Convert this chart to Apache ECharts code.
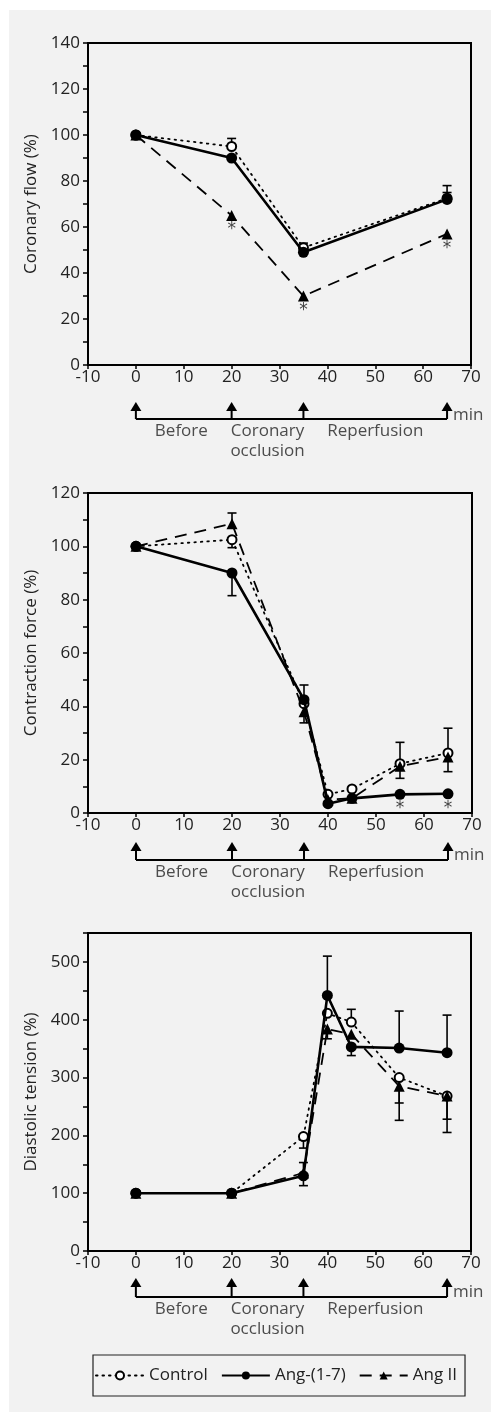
<!DOCTYPE html>
<html><head><meta charset="utf-8">
<script src="https://cdn.jsdelivr.net/npm/echarts@6/dist/echarts.min.js"></script>
<style>
html,body{margin:0;padding:0;background:#fff;}
#bg{position:absolute;left:9px;top:10px;width:482px;height:1402px;background:#f2f2f2;}
#chart{position:absolute;left:0;top:0;width:491px;height:1412px;}
</style></head><body><div id="bg"></div><div id="chart"></div>
<script>
// ---------- data ----------
const seriesNames = ['Control', 'Ang-(1-7)', 'Ang II'];

// Panel 1: coronary flow (%)
const flowTimes = [0, 20, 35, 65];
const flowControl = [100, 95, 51, 72.5];
const flowAng17 = [100, 90, 49, 72];
const flowAngII = [100, 65, 30, 57];
const flowControlErr = [null, 3.5, 2, 5.5];
const flowAng17Err = [null, null, null, 3];
const flowAngIIErr = [null, null, null, null];
const flowAngIIStar = [false, true, true, true];

// Panel 2: contraction force (%)
const forceTimes = [0, 20, 35, 40, 45, 55, 65];
const forceControl = [100, 102.5, 41, 7, 9, 18.5, 22.5];
const forceAng17 = [100, 90, 42.5, 3.5, 5.5, 7, 7.2];
const forceAngII = [100, 108.5, 38, 5, 5.5, 17.5, 21];
const forceControlErr = [null, -3, null, null, null, 8, 9.3];
const forceAng17Err = [null, -8.5, 5.5, null, null, null, null];
const forceAngIIErr = [null, 4, -4.2, null, null, -4.5, -5.5];
const forceAng17Star = [false, false, false, false, false, true, true];

// Panel 3: diastolic tension (%)
const tensionTimes = [0, 20, 35, 40, 45, 55, 65];
const tensionControl = [100, 100, 198, 411, 396, 300, 268];
const tensionAng17 = [100, 100, 130, 442, 353, 351, 343];
const tensionAngII = [100, 100, 135, 384, 375, 285, 268];
const tensionControlErr = [null, null, -20, null, 22, -44, -40];
const tensionAng17Err = [null, null, -17, 68, -15, 64, 65];
const tensionAngIIErr = [null, null, 18, -17, null, -59, -63];

// Protocol time line
const phaseTimes = [0, 20, 35, 65];
const phaseLabels = ['Before', 'Coronary\nocclusion', 'Reperfusion'];
const phaseLabelTimes = [9.5, 27.5, 50];
const timeUnit = 'min';

// Axis settings
const xTickMin = -10, xTickMax = 70, xTickStep = 10;
const yAxes = [
  {name: 'Coronary flow (%)', max: 140, step: 10, label: 20},
  {name: 'Contraction force (%)', max: 120, step: 10, label: 20},
  {name: 'Diastolic tension (%)', max: 550, step: 50, label: 100}
];

// ---------- layout ----------
const FONT = '"Open Sans", "Liberation Sans", Arial, sans-serif';
const FS = 17;
const TXT = '#222';
const panels = [
  {grid: {left: 88, top: 43, width: 383, height: 322}, tl: {top: 402, height: 17}},
  {grid: {left: 88, top: 493, width: 384, height: 320}, tl: {top: 842, height: 18}},
  {grid: {left: 88, top: 933, width: 383, height: 318}, tl: {top: 1278, height: 19}}
];
const panelData = [
  {t: flowTimes, v: [flowControl, flowAng17, flowAngII], e: [flowControlErr, flowAng17Err, flowAngIIErr], star: [null, null, flowAngIIStar]},
  {t: forceTimes, v: [forceControl, forceAng17, forceAngII], e: [forceControlErr, forceAng17Err, forceAngIIErr], star: [null, forceAng17Star, null]},
  {t: tensionTimes, v: [tensionControl, tensionAng17, tensionAngII], e: [tensionControlErr, tensionAng17Err, tensionAngIIErr], star: [null, null, null]}
];

const styles = [
  {symbol: 'emptyCircle', symbolSize: 9, lineStyle: {color: '#000', width: 1.8, type: [1.5, 5], cap: 'round'}, itemStyle: {color: '#000', borderWidth: 2, borderColor: '#000'}},
  {symbol: 'circle', symbolSize: 11, lineStyle: {color: '#000', width: 2.6, type: 'solid'}, itemStyle: {color: '#000'}},
  {symbol: 'triangle', symbolSize: 11, lineStyle: {color: '#000', width: 1.8, type: [12, 8]}, itemStyle: {color: '#000'}}
];

const grids = [], xAxes = [], yAxesOpt = [], series = [];

function errRender(params, api) {
  const x = api.value(0), y = api.value(1), end = api.value(2);
  const p0 = api.coord([x, y]);
  const p1 = api.coord([x, end]);
  return {type: 'group', children: [
    {type: 'line', shape: {x1: p0[0], y1: p0[1], x2: p1[0], y2: p1[1]}, style: {stroke: '#000', lineWidth: 1.6}},
    {type: 'line', shape: {x1: p1[0] - 4.5, y1: p1[1], x2: p1[0] + 4.5, y2: p1[1]}, style: {stroke: '#000', lineWidth: 1.6}}
  ]};
}

function arrowRender(params, api) {
  const x = api.value(0);
  const tip = api.coord([x, 1]);
  const base = api.coord([x, 0]);
  const h = 9, w = 5.5;
  return {type: 'group', children: [
    {type: 'polygon', shape: {points: [[tip[0], tip[1]], [tip[0] - w, tip[1] + h], [tip[0] + w, tip[1] + h]]}, style: {fill: '#000'}},
    {type: 'line', shape: {x1: tip[0], y1: tip[1] + h - 1, x2: base[0], y2: base[1]}, style: {stroke: '#000', lineWidth: 2}}
  ]};
}

panels.forEach((p, i) => {
  const gi = i * 2, ti = i * 2 + 1;
  const ya = yAxes[i];
  grids.push(Object.assign({show: true, borderColor: '#000', borderWidth: 2, backgroundColor: 'transparent'}, p.grid));
  grids.push({left: p.grid.left, width: p.grid.width, top: p.tl.top, height: p.tl.height});
  xAxes.push({
    gridIndex: gi, type: 'value', min: xTickMin, max: xTickMax, interval: xTickStep,
    axisLine: {show: true, onZero: false, lineStyle: {color: '#000', width: 2}},
    axisTick: {show: true, length: 4, lineStyle: {color: '#000', width: 1.5}},
    axisLabel: {fontSize: FS, color: TXT, margin: 4, fontFamily: FONT},
    splitLine: {show: false}
  });
  xAxes.push({gridIndex: ti, type: 'value', min: xTickMin, max: xTickMax, show: false});
  yAxesOpt.push({
    gridIndex: gi, type: 'value', min: 0, max: ya.max, interval: ya.step,
    name: ya.name, nameLocation: 'middle', nameGap: 45,
    nameTextStyle: {fontSize: FS, color: TXT, fontFamily: FONT},
    axisLine: {show: true, onZero: false, lineStyle: {color: '#000', width: 2}},
    axisTick: {show: true, length: 5, lineStyle: {color: '#000', width: 1.5}},
    axisLabel: {fontSize: FS, color: TXT, margin: 8, fontFamily: FONT,
      formatter: v => (v % ya.label === 0 ? String(v) : '')},
    splitLine: {show: false}
  });
  yAxesOpt.push({gridIndex: ti, type: 'value', min: 0, max: 1, show: false});

  const d = panelData[i];
  d.e.forEach((errs, si) => {
    const data = [];
    errs.forEach((e, k) => { if (e !== null) data.push([d.t[k], d.v[si][k], d.v[si][k] + e]); });
    series.push({type: 'custom', xAxisIndex: gi, yAxisIndex: gi, renderItem: errRender, data: data, z: 1, silent: true});
  });
  d.v.forEach((vals, si) => {
    const s = styles[si];
    series.push({
      name: seriesNames[si], type: 'line', xAxisIndex: gi, yAxisIndex: gi,
      data: vals.map((v, k) => [d.t[k], v]),
      symbol: s.symbol, symbolSize: s.symbolSize, showAllSymbol: true,
      lineStyle: s.lineStyle, itemStyle: s.itemStyle, z: 3 + si, emphasis: {disabled: true}
    });
  });
  d.star.forEach((flags, si) => {
    if (!flags) return;
    const data = [];
    flags.forEach((f, k) => { if (f) data.push([d.t[k], d.v[si][k]]); });
    series.push({
      type: 'scatter', xAxisIndex: gi, yAxisIndex: gi, data: data, symbolSize: 0, silent: true,
      label: {show: true, position: 'bottom', distance: 6, formatter: '*', fontSize: 17, color: '#111', fontFamily: '"DejaVu Sans", sans-serif'}
    });
  });
  series.push({type: 'custom', xAxisIndex: ti, yAxisIndex: ti, renderItem: arrowRender,
    data: phaseTimes.map(t => [t]), silent: true, z: 5});
  series.push({type: 'line', xAxisIndex: ti, yAxisIndex: ti, symbol: 'none', silent: true,
    data: [[phaseTimes[0], 0], [phaseTimes[phaseTimes.length - 1], 0]],
    lineStyle: {color: '#000', width: 2}});
  series.push({type: 'scatter', xAxisIndex: ti, yAxisIndex: ti, symbolSize: 0, silent: true,
    data: phaseLabels.map((l, k) => ({value: [phaseLabelTimes[k], 0], name: l})),
    label: {show: true, position: 'bottom', distance: 2, formatter: p => p.name,
      fontSize: FS, lineHeight: 20, color: TXT, fontFamily: FONT, align: 'center'}});
  series.push({type: 'scatter', xAxisIndex: ti, yAxisIndex: ti, symbolSize: 0, silent: true,
    data: [[phaseTimes[phaseTimes.length - 1], 0.25]],
    label: {show: true, position: 'right', distance: 6, formatter: timeUnit,
      fontSize: FS, color: TXT, fontFamily: FONT}});
});

const chart = echarts.init(document.getElementById('chart'), null, {renderer: 'canvas'});
chart.setOption({
  animation: false,
  backgroundColor: 'transparent',
  grid: grids, xAxis: xAxes, yAxis: yAxesOpt, series: series,
  legend: {
    data: seriesNames, left: 93, top: 1355, orient: 'horizontal',
    itemWidth: 48, itemHeight: 10, itemGap: 13,
    padding: [12, 8, 12, 2],
    borderColor: '#222', borderWidth: 1.2,
    textStyle: {fontSize: FS, color: TXT, fontFamily: FONT}
  }
});
</script></body></html>
